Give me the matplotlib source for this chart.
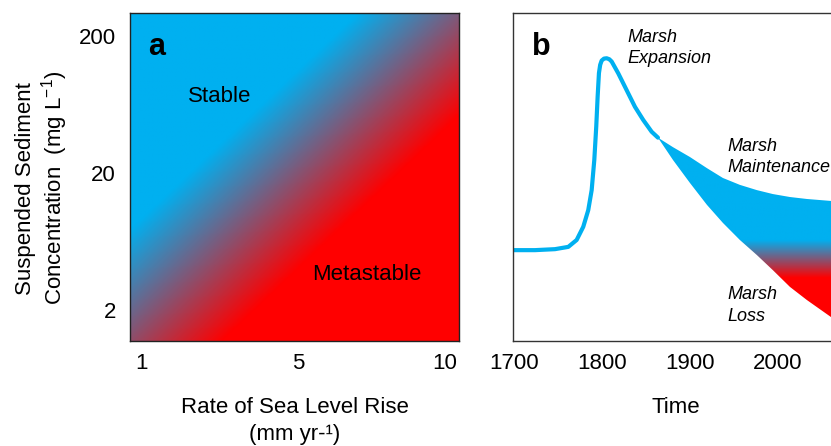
import numpy as np
import matplotlib
matplotlib.use('Agg')
import matplotlib.pyplot as plt
from matplotlib.colors import LinearSegmentedColormap
from matplotlib.ticker import NullLocator

plt.rcParams['font.family'] = ['Liberation Sans', 'DejaVu Sans']
plt.rcParams['mathtext.default'] = 'regular'

# panel a - stability space (schematic)
slr_labels = ['1', '5', '10']
slr_tick_pos = [0.036, 0.51, 0.955]   # fractional, axis is not to scale
ssc_ticks = [2, 20, 200]
ssc_lim = (1.19, 294)

# panel b - marsh extent through time
years = [1698.3, 1723.3, 1746.1, 1761.3, 1770.8, 1778.3, 1784.0, 1787.9,
         1790.9, 1793.1, 1794.7, 1796.2, 1797.6, 1799.3, 1802.0, 1805.0,
         1808.0, 1810.7, 1818.2, 1827.7, 1837.2, 1846.6, 1856.2, 1863.4]
marsh = [0.277, 0.277, 0.280, 0.287, 0.308, 0.348, 0.399, 0.460,
         0.552, 0.653, 0.745, 0.817, 0.842, 0.855, 0.861, 0.862,
         0.859, 0.852, 0.816, 0.765, 0.714, 0.674, 0.638, 0.620]

fan_years = [1863.4, 1880.5, 1899.8, 1919.2, 1937.4, 1956.7, 1976.1,
             1994.3, 2013.7, 2033.0, 2060.5]
fan_upper = [0.620, 0.591, 0.561, 0.527, 0.497, 0.476, 0.460,
             0.448, 0.439, 0.433, 0.427]
fan_lower = [0.620, 0.552, 0.482, 0.415, 0.360, 0.308, 0.262,
             0.216, 0.165, 0.125, 0.073]

BLUE = '#00B0F0'
RED = '#FF0000'
cmap = LinearSegmentedColormap.from_list('bluered', [BLUE, RED])

fig = plt.figure(figsize=(8.31, 4.46), dpi=100)
ax_a = fig.add_axes([130 / 831, 105 / 446, 329 / 831, 328 / 446])
ax_b = fig.add_axes([513 / 831, 105 / 446, 318 / 831, 328 / 446])

# --- panel a: diagonal blue -> red blend
u, v = np.meshgrid(np.linspace(0, 1, 400), np.linspace(0, 1, 400))
d = (u - 0.486) - 1.05 * (v - 0.5)
t = np.clip(0.5 + d / 0.64, 0, 1)
ax_a.imshow(t, cmap=cmap, vmin=0, vmax=1, origin='lower', extent=(0, 1, 0, 1),
            transform=ax_a.transAxes, aspect='auto', interpolation='bilinear')
ax_a.set_yscale('log')
ax_a.set_xlim(0, 1)
ax_a.set_ylim(*ssc_lim)
ax_a.set_yticks(ssc_ticks, labels=[str(s) for s in ssc_ticks])
ax_a.yaxis.set_minor_locator(NullLocator())
ax_a.set_xticks(slr_tick_pos, labels=slr_labels)
ax_a.tick_params(axis='both', length=0, labelsize=16)
ax_a.tick_params(axis='x', pad=8.5)
ax_a.tick_params(axis='y', pad=10)
for s in ax_a.spines.values():
    s.set_linewidth(1)
    s.set_color('#222222')

ax_a.set_xlabel('Rate of Sea Level Rise\n(mm yr-\u00b9)', fontsize=16, linespacing=1.4)
ax_a.xaxis.set_label_coords(0.5, -0.17)
ax_a.set_ylabel('Suspended Sediment\nConcentration  (mg L$^{-1}$)', fontsize=16,
                linespacing=1.15)
ax_a.yaxis.set_label_coords(-0.183, 0.466)

ax_a.text(0.274, 0.744, 'Stable', transform=ax_a.transAxes, fontsize=16,
          ha='center', va='center')
ax_a.text(0.72, 0.204, 'Metastable', transform=ax_a.transAxes, fontsize=16,
          ha='center', va='center')
ax_a.text(0.055, 0.896, 'a', transform=ax_a.transAxes, fontsize=22,
          fontweight='bold', ha='left', va='center')

# --- panel b: marsh history + future fan
ax_b.plot(years, marsh, color=BLUE, lw=3, solid_capstyle='round',
          solid_joinstyle='round')
fan = ax_b.fill_between(fan_years, fan_lower, fan_upper, facecolor='none',
                        edgecolor='none')
vv = np.linspace(0, 0.7, 300)[:, None] * np.ones((1, 10))
tt = np.clip((0.308 - vv) / (0.308 - 0.192), 0, 1)
im = ax_b.imshow(tt, cmap=cmap, vmin=0, vmax=1, origin='lower',
                 extent=(fan_years[0], fan_years[-1], 0, 0.7), aspect='auto',
                 interpolation='bilinear')
im.set_clip_path(fan.get_paths()[0], ax_b.transData)

ax_b.set_xlim(1698.3, 2060.5)
ax_b.set_ylim(0, 1)
ax_b.set_xticks([1700, 1800, 1900, 2000])
ax_b.set_yticks([])
ax_b.tick_params(axis='x', length=0, labelsize=16, pad=8.5)
ax_b.spines['right'].set_visible(False)
for s in ['left', 'top', 'bottom']:
    ax_b.spines[s].set_linewidth(1)
    ax_b.spines[s].set_color('#333333')
ax_b.set_xlabel('Time', fontsize=16)
ax_b.xaxis.set_label_coords(0.513, -0.17)

ax_b.text(0.06, 0.896, 'b', transform=ax_b.transAxes, fontsize=22,
          fontweight='bold', ha='left', va='center')
lbl = dict(fontsize=13, style='italic', ha='left', va='center', linespacing=1.35)
ax_b.text(1829, 0.893, 'Marsh\nExpansion', **lbl)
ax_b.text(1943, 0.561, 'Marsh\nMaintenance', **lbl)
ax_b.text(1943, 0.108, 'Marsh\nLoss', **lbl)

fig.savefig('out.png', dpi=100)
